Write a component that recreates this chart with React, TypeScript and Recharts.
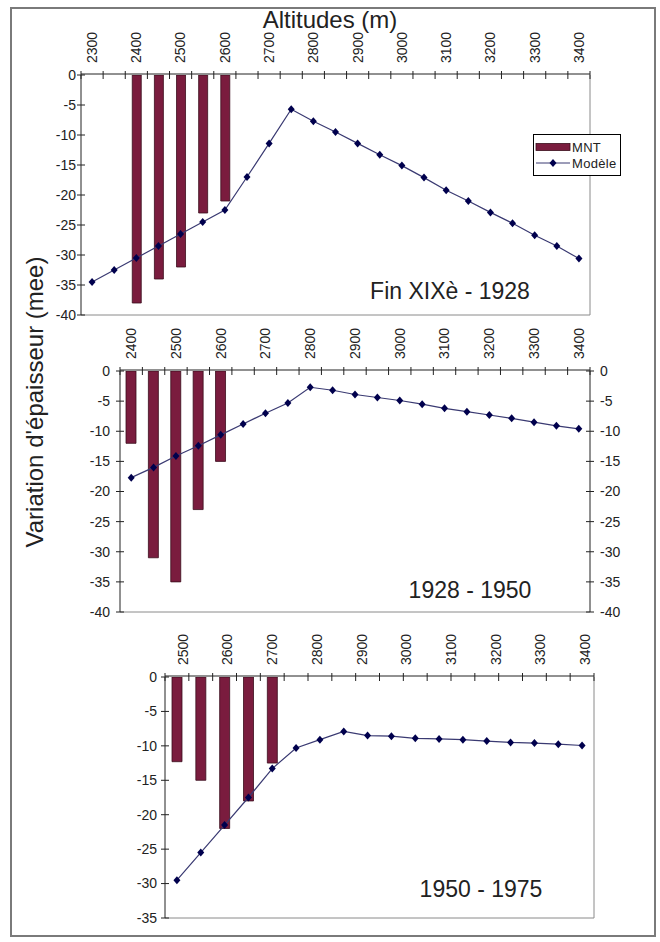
import React from 'react';
import { ComposedChart, Bar, Line, XAxis, YAxis, Legend, ReferenceLine } from 'recharts';

const FONT = '"Liberation Sans", Arial, sans-serif';
const INK = '#222';
const BAR = '#7a1c3e';
const BAR_EDGE = '#3a0d1c';
const LINE = '#3a3a72';
const DOT = '#00004d';
const BORDER = '#8a8a8a';

// Fin XIXè - 1928
const alt1 = [2300, 2350, 2400, 2450, 2500, 2550, 2600, 2650, 2700, 2750, 2800, 2850, 2900, 2950, 3000, 3050, 3100, 3150, 3200, 3250, 3300, 3350, 3400];
const mnt1 = [null, null, -38, -34, -32, -23, -21, null, null, null, null, null, null, null, null, null, null, null, null, null, null, null, null];
const model1 = [-34.5, -32.5, -30.5, -28.5, -26.5, -24.5, -22.5, -17, -11.4, -5.7, -7.7, -9.5, -11.4, -13.3, -15.1, -17.1, -19.2, -21, -22.9, -24.7, -26.7, -28.5, -30.6];
const altLabels1 = [2300, 2400, 2500, 2600, 2700, 2800, 2900, 3000, 3100, 3200, 3300, 3400];
const yTicks1 = [0, -5, -10, -15, -20, -25, -30, -35, -40];

// 1928 - 1950
const alt2 = [2400, 2450, 2500, 2550, 2600, 2650, 2700, 2750, 2800, 2850, 2900, 2950, 3000, 3050, 3100, 3150, 3200, 3250, 3300, 3350, 3400];
const mnt2 = [-12, -31, -35, -23, -15, null, null, null, null, null, null, null, null, null, null, null, null, null, null, null, null];
const model2 = [-17.7, -16, -14.1, -12.4, -10.6, -8.8, -7, -5.3, -2.7, -3.2, -3.9, -4.4, -4.9, -5.5, -6.2, -6.75, -7.3, -7.85, -8.5, -9.1, -9.6];
const altLabels2 = [2400, 2500, 2600, 2700, 2800, 2900, 3000, 3100, 3200, 3300, 3400];
const yTicks2 = [0, -5, -10, -15, -20, -25, -30, -35, -40];

// 1950 - 1975
const alt3 = [2500, 2550, 2600, 2650, 2700, 2750, 2800, 2850, 2900, 2950, 3000, 3050, 3100, 3150, 3200, 3250, 3300, 3350];
const mnt3 = [-12.3, -15, -22, -18, -12.5, null, null, null, null, null, null, null, null, null, null, null, null, null];
const model3 = [-29.5, -25.5, -21.5, -17.5, -13.3, -10.3, -9.1, -7.9, -8.5, -8.6, -8.9, -9, -9.1, -9.3, -9.5, -9.6, -9.75, -9.95];
const altLabels3 = [2500, 2600, 2700, 2800, 2900, 3000, 3100, 3200, 3300, 3400];
const yTicks3 = [0, -5, -10, -15, -20, -25, -30, -35];

const YW = 40;
const RW = 10;

// tick marks sit between categories, like the spreadsheet axis
function CatTick(props: any) {
  const { x, y, payload, index, visibleTicksCount, width } = props;
  const half = payload && payload.offset > 0 ? payload.offset : width / visibleTicksCount / 2;
  const last = index === visibleTicksCount - 1;
  return (
    <g>
      <line x1={x - half} x2={x - half} y1={y - 3} y2={y + 5} stroke={INK} />
      {last && <line x1={x + half} x2={x + half} y1={y - 3} y2={y + 5} stroke={INK} />}
    </g>
  );
}

function AltTick(props: any) {
  const { x, y, payload } = props;
  const ty = y - 12;
  return (
    <text x={x} y={ty} dy="0.35em" transform={`rotate(-90 ${x} ${ty})`} textAnchor="start"
      fontFamily={FONT} fontSize={14} fill={INK}>
      {payload.value}
    </text>
  );
}

function YTick(props: any) {
  const { x, y, payload, side, gap } = props;
  const left = side === 'left';
  return (
    <g>
      <line x1={x - 4} x2={x + 4} y1={y} y2={y} stroke={INK} />
      <text x={left ? x - gap : x + gap} y={y} dy="0.35em" textAnchor={left ? 'end' : 'start'}
        fontFamily={FONT} fontSize={14} fill={INK}>
        {payload.value}
      </text>
    </g>
  );
}

function Diamond(p: any) {
  if (p.cx == null || p.cy == null) return <g key={`dm${p.index}`} />;
  const { cx, cy } = p;
  return (
    <polygon key={`dm${p.index}`} fill={DOT}
      points={`${cx},${cy - 4} ${cx + 3.5},${cy} ${cx},${cy + 4} ${cx - 3.5},${cy}`} />
  );
}

function LegendBox(props: any) {
  const items = props.payload || [];
  return (
    <div style={{ background: '#fff', border: '1px solid #000', padding: '4px 1px', boxSizing: 'border-box',
      width: 88, height: 42, fontFamily: FONT, fontSize: 13, color: INK }}>
      {items.map((it: any) => (
        <div key={it.value} style={{ display: 'flex', alignItems: 'center', height: 16 }}>
          <svg width={36} height={10} style={{ display: 'block' }}>
            {it.type === 'rect' ? (
              <rect x={1} y={1.5} width={34} height={7} fill={BAR} stroke={BAR_EDGE} strokeWidth={0.8} />
            ) : (
              <g>
                <line x1={1} x2={35} y1={5} y2={5} stroke={LINE} />
                <polygon points="18,1 21.5,5 18,9 14.5,5" fill={DOT} />
              </g>
            )}
          </svg>
          <span style={{ marginLeft: 1, letterSpacing: 0.3 }}>{it.value}</span>
        </div>
      ))}
    </div>
  );
}

type PanelProps = {
  alt: number[];
  mnt: (number | null)[];
  model: number[];
  altLabels: number[];
  altDomain: [number, number];
  yTicks: number[];
  top: number;
  height: number;
  plotTop: number;
  plotBottom: number;
  plotLeft: number;
  plotRight: number;
  gap: number;
  barSize: number;
  rightTicks?: boolean;
  legend?: boolean;
};

function Panel(p: PanelProps) {
  const rows = p.alt.map((a, i) => ({ alt: a, mnt: p.mnt[i], model: p.model[i] }));
  const yMin = p.yTicks[p.yTicks.length - 1];
  return (
    <div style={{ position: 'absolute', left: 0, top: p.top }}>
      <ComposedChart width={660} height={p.height} data={rows}
        margin={{ top: p.plotTop - p.top - 2, bottom: p.top + p.height - p.plotBottom, left: p.plotLeft - YW, right: 660 - p.plotRight - RW }}>
        <XAxis xAxisId="cat" dataKey="alt" orientation="top" height={1} interval={0} tickSize={0} tickMargin={0}
          tickLine={false} axisLine={{ stroke: INK }} tick={<CatTick />} />
        <XAxis xAxisId="alt" dataKey="alt" type="number" scale="linear" orientation="top" domain={p.altDomain}
          allowDataOverflow ticks={p.altLabels} interval={0} height={1} tickSize={0} tickMargin={0} tickLine={false}
          axisLine={false} tick={<AltTick />} />
        <YAxis yAxisId="l" type="number" domain={[yMin, 0]} allowDataOverflow ticks={p.yTicks} interval={0} width={YW}
          tickSize={0} tickMargin={0} tickLine={false} axisLine={{ stroke: INK }} tick={<YTick side="left" gap={p.gap} />} />
        <YAxis yAxisId="r" orientation="right" type="number" domain={[yMin, 0]} allowDataOverflow ticks={p.yTicks}
          interval={0} width={RW} tickSize={0} tickMargin={0} tickLine={false}
          axisLine={{ stroke: p.rightTicks ? INK : BORDER }}
          tick={p.rightTicks ? <YTick side="right" gap={10} /> : false} />
        <ReferenceLine xAxisId="cat" yAxisId="l" y={yMin} stroke={BORDER} />
        <Bar xAxisId="cat" yAxisId="l" dataKey="mnt" name="MNT" barSize={p.barSize} fill={BAR} stroke={BAR_EDGE}
          strokeWidth={0.8} isAnimationActive={false} />
        <Line xAxisId="cat" yAxisId="l" dataKey="model" name="Modèle" type="linear" stroke={LINE} strokeWidth={1.2}
          dot={Diamond} activeDot={false} isAnimationActive={false} />
        {p.legend && (
          <Legend layout="vertical" align="center" verticalAlign="middle" content={<LegendBox />}
            wrapperStyle={{ position: 'absolute', left: 533, top: 134, width: 88, height: 42 }} />
        )}
      </ComposedChart>
    </div>
  );
}

const titleStyle: React.CSSProperties = {
  position: 'absolute', fontFamily: FONT, fontSize: 23, lineHeight: '23px', color: INK,
  whiteSpace: 'nowrap', transform: 'translateX(-50%)',
};

export default function App() {
  return (
    <div style={{ position: 'absolute', left: 0, top: 0, width: 660, height: 942, background: '#fff', fontFamily: FONT }}>
      <div style={{ position: 'absolute', left: 10, top: 7, width: 646, height: 930, border: '2px solid #7a7a7a', boxSizing: 'border-box' }} />
      <Panel alt={alt1} mnt={mnt1} model={model1} altLabels={altLabels1} altDomain={[2275, 3425]} yTicks={yTicks1}
        top={0} height={330} plotTop={75} plotBottom={315} plotLeft={81} plotRight={590} gap={5} barSize={9} legend />
      <Panel alt={alt2} mnt={mnt2} model={model2} altLabels={altLabels2} altDomain={[2375, 3425]} yTicks={yTicks2}
        top={320} height={300} plotTop={371} plotBottom={612} plotLeft={120} plotRight={590} gap={10} barSize={10} rightTicks />
      <Panel alt={alt3} mnt={mnt3} model={model3} altLabels={altLabels3} altDomain={[2460, 3420]} yTicks={yTicks3}
        top={625} height={310} plotTop={677} plotBottom={918} plotLeft={165} plotRight={594} gap={8} barSize={10} />
      <div style={{ position: 'absolute', left: 330, top: 8, fontSize: 24, lineHeight: '24px', color: INK, whiteSpace: 'nowrap', transform: 'translateX(-50%)' }}>
        Altitudes (m)
      </div>
      <div style={{ position: 'absolute', left: 35, top: 402, fontSize: 24, lineHeight: '24px', color: INK, whiteSpace: 'nowrap',
        transform: 'translate(-50%, -50%) rotate(-90deg)' }}>
        Variation d'épaisseur (mee)
      </div>
      <div style={{ ...titleStyle, left: 450, top: 280 }}>Fin XIXè - 1928</div>
      <div style={{ ...titleStyle, left: 470, top: 579 }}>1928 - 1950</div>
      <div style={{ ...titleStyle, left: 481, top: 878 }}>1950 - 1975</div>
    </div>
  );
}
